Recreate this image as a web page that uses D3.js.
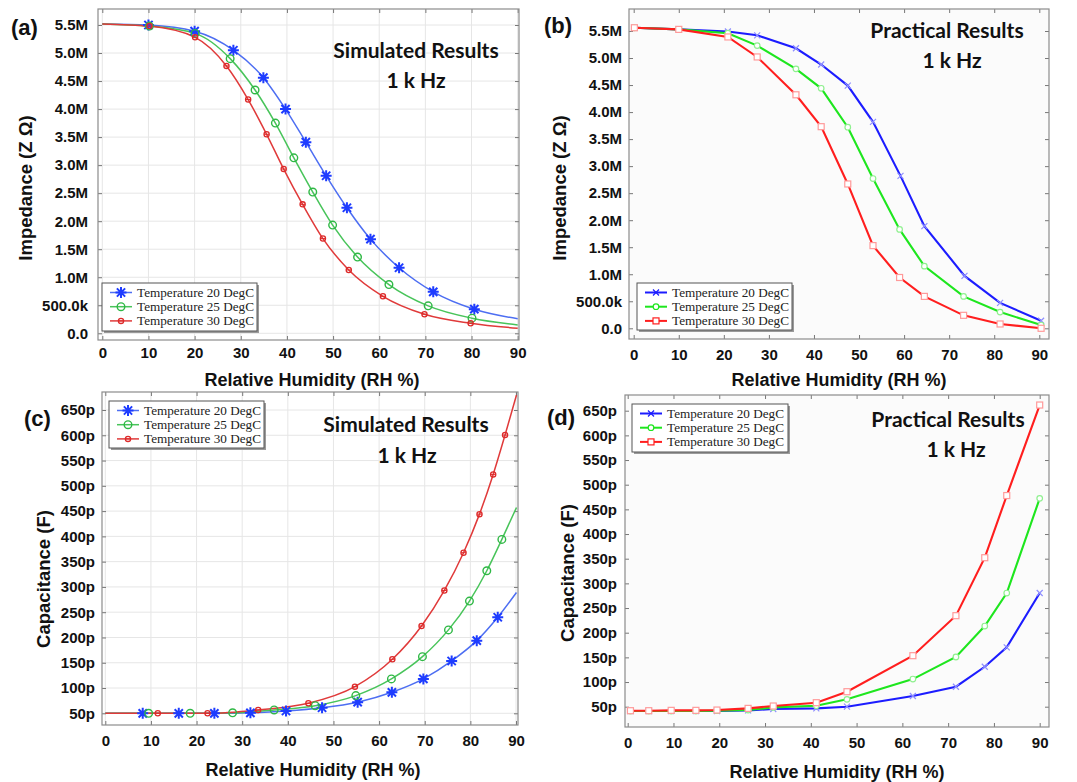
<!DOCTYPE html>
<html><head><meta charset="utf-8">
<script src="https://cdn.jsdelivr.net/npm/d3@7"></script>
<style>
body{margin:0;background:#fff;}
svg{display:block;}
</style></head>
<body>
<svg id="chart" width="1077" height="782"></svg>
<script>
// ---------- DATA ----------
const xTicks = [0,10,20,30,40,50,60,70,80,90];
const zTicks = [0,0.5,1,1.5,2,2.5,3,3.5,4,4.5,5,5.5];           // impedance, M-ohm
const cTicks = [50,100,150,200,250,300,350,400,450,500,550,600,650]; // capacitance, pF
const seriesNames = ["Temperature 20 DegC","Temperature 25 DegC","Temperature 30 DegC"];

// (a) simulated impedance
const rhSimZ20 = [0,10,20,28.4,34.9,39.7,44.1,48.5,53.0,58.1,64.3,71.7,80.6,90];
const zSim20   = [5.52,5.50,5.39,5.05,4.56,4.00,3.41,2.81,2.24,1.68,1.17,0.74,0.43,0.26];
const rhSimZ25 = [0,10.2,20.1,27.7,33.1,37.5,41.5,45.6,49.9,55.3,62.1,70.6,80.1,90];
const zSim25   = [5.52,5.48,5.35,4.90,4.34,3.75,3.13,2.52,1.93,1.36,0.87,0.49,0.27,0.15];
const rhSimZ30 = [0,10.2,20.1,26.9,31.6,35.6,39.3,43.4,47.8,53.4,60.8,69.8,79.8,90];
const zSim30   = [5.52,5.48,5.28,4.77,4.17,3.55,2.93,2.30,1.69,1.13,0.66,0.34,0.18,0.09];

// (b) practical impedance
const rhPrZ20 = [0.15,10,20.9,27.4,36.0,41.6,47.5,53.1,59.2,64.5,73.4,81.3,90.4];
const zPr20   = [5.56,5.53,5.49,5.42,5.18,4.88,4.49,3.82,2.82,1.89,0.97,0.47,0.14];
const rhPrZ25 = [0.15,10,20.9,27.4,36.0,41.6,47.5,53.1,59.0,64.5,73.2,81.3,90.4];
const zPr25   = [5.56,5.53,5.46,5.23,4.80,4.44,3.72,2.77,1.83,1.15,0.59,0.30,0.06];
const rhPrZ30 = [0.15,10,20.9,27.4,36.0,41.6,47.5,53.1,59.0,64.5,73.2,81.3,90.4];
const zPr30   = [5.56,5.53,5.39,5.02,4.32,3.73,2.67,1.53,0.94,0.59,0.24,0.08,0.00];

// (c) simulated capacitance
const rhSimC20 = [0,8.2,16.1,23.9,31.8,39.6,47.5,55.3,62.8,69.7,75.9,81.4,86.0,90.1];
const cSim20   = [50,50,50,50,51,54.6,61,72,91.5,118,153.5,193.7,240,289];
const rhSimC25 = [0,9.5,18.6,27.9,37.0,46.0,54.9,62.7,69.5,75.2,79.8,83.6,86.9,90.1];
const cSim25   = [50,50,50,51,56.6,65,85,118,162,215,272,332,394,457];
const rhSimC30 = [0,11.5,22.4,33.5,44.5,54.7,62.9,69.3,74.3,78.5,82.0,85.0,87.6,90.1];
const cSim30   = [50,50,50,56.6,69.8,102.7,156.8,222.7,293,367.7,444,522.6,600.4,679.5];

// (d) practical capacitance
const rhPrC  = [0.6,4.6,9.5,14.9,19.5,26.3,31.8,41.2,47.9,62.3,71.7,78.0,82.8,90.0];
const cPr20  = [41.2,41.2,41.2,41.2,41.2,42.6,45.3,46.6,50,71.6,90.5,131,170.3,280.4];
const cPr25  = [41.2,41.2,41.2,41.2,41.9,43.2,48.6,52,64.9,106,150.7,213.5,280.4,472.3];
const cPr30  = [41.9,41.9,42.6,42.6,43.2,46.6,51.4,58.1,80.4,153.4,234.5,352,478,661.5];

// ---------- DRAW ----------
const svg = d3.select("#chart");
const zip = (xs, ys) => xs.map((x,i)=>[x, ys[i]]);
const fmtZ = v => v === 0 ? "0.0" : (v < 1 ? (v*1000).toFixed(1)+"k" : v.toFixed(1)+"M");
const fmtC = v => v + "p";

const simStyle = [
  {line:"#4d6ef2", mark:"#1e3cff", shape:"star"},
  {line:"#48c45a", mark:"#2fb845", shape:"circle"},
  {line:"#e03a3a", mark:"#dd2a2a", shape:"dot"}
];
const prStyle = [
  {line:"#1c1cff", mark:"#8f8fff", shape:"x"},
  {line:"#1ee61e", mark:"#8ff08f", shape:"circleS"},
  {line:"#ff1e1e", mark:"#ff9a9a", shape:"square"}
];

function drawMarker(g, shape, color, cx, cy) {
  if (shape === "star") {
    const s = 5.5;
    g.append("path").attr("d",
      `M${cx-s},${cy}L${cx+s},${cy}M${cx},${cy-s}L${cx},${cy+s}` +
      `M${cx-s*0.75},${cy-s*0.75}L${cx+s*0.75},${cy+s*0.75}M${cx-s*0.75},${cy+s*0.75}L${cx+s*0.75},${cy-s*0.75}`)
      .attr("stroke", color).attr("stroke-width", 2).attr("fill","none");
  } else if (shape === "circle") {
    g.append("circle").attr("cx",cx).attr("cy",cy).attr("r",3.8)
      .attr("fill","none").attr("stroke",color).attr("stroke-width",1.4);
  } else if (shape === "dot") {
    g.append("circle").attr("cx",cx).attr("cy",cy).attr("r",2.6)
      .attr("fill","none").attr("stroke",color).attr("stroke-width",1.3);
    g.append("path").attr("d",`M${cx-2.5},${cy}L${cx+2.5},${cy}`).attr("stroke",color).attr("stroke-width",1);
  } else if (shape === "x") {
    const s = 3;
    g.append("path").attr("d",`M${cx-s},${cy-s}L${cx+s},${cy+s}M${cx-s},${cy+s}L${cx+s},${cy-s}`)
      .attr("stroke",color).attr("stroke-width",1.2);
  } else if (shape === "circleS") {
    g.append("circle").attr("cx",cx).attr("cy",cy).attr("r",2.8)
      .attr("fill","#fff").attr("stroke",color).attr("stroke-width",1.2);
  } else if (shape === "square") {
    g.append("rect").attr("x",cx-3).attr("y",cy-3).attr("width",6).attr("height",6)
      .attr("fill","#fff").attr("stroke",color).attr("stroke-width",1.2);
  }
}

function panel(cfg) {
  const g = svg.append("g");
  const x = d3.scaleLinear().domain([0,90]).range(cfg.xr);
  const y = d3.scaleLinear().domain(cfg.yd).range(cfg.yr);
  const [L,T,R,B] = cfg.frame;
  const id = "clip" + cfg.tag.replace(/[()]/g,"");
  svg.append("clipPath").attr("id", id).append("rect")
     .attr("x",L).attr("y",T).attr("width",R-L).attr("height",B-T);

  g.append("rect").attr("x",L).attr("y",T).attr("width",R-L).attr("height",B-T)
   .attr("fill", cfg.bg);

  if (cfg.grid) {
    g.append("g").selectAll("line").data(xTicks).join("line")
     .attr("x1",d=>x(d)).attr("x2",d=>x(d)).attr("y1",T).attr("y2",B)
     .attr("stroke","#e6e6e6").attr("stroke-width",1);
    g.append("g").selectAll("line").data(cfg.yTicks).join("line")
     .attr("y1",d=>y(d)).attr("y2",d=>y(d)).attr("x1",L).attr("x2",R)
     .attr("stroke","#e6e6e6").attr("stroke-width",1);
  }

  // axes
  const ax = g.append("g").attr("transform",`translate(0,${B})`)
    .call(d3.axisBottom(x).tickValues(xTicks).tickFormat(d3.format("d"))
      .tickSizeInner(-4).tickSizeOuter(0).tickPadding(cfg.xPad));
  const ay = g.append("g").attr("transform",`translate(${L},0)`)
    .call(d3.axisLeft(y).tickValues(cfg.yTicks).tickFormat(cfg.fmt)
      .tickSizeInner(-4).tickSizeOuter(0).tickPadding(cfg.yPad));
  const at = g.append("g").attr("transform",`translate(0,${T})`)
    .call(d3.axisTop(x).tickValues(xTicks).tickFormat("").tickSizeInner(-4).tickSizeOuter(0));
  const ar = g.append("g").attr("transform",`translate(${R},0)`)
    .call(d3.axisRight(y).tickValues(cfg.yTicks).tickFormat("").tickSizeInner(-4).tickSizeOuter(0));
  [ax,ay,at,ar].forEach(a=>{
    a.select(".domain").remove();
    a.selectAll("line").attr("stroke","#777");
    a.selectAll("text").attr("font-family","Liberation Sans, Arial, sans-serif")
      .attr("font-weight","bold").attr("font-size",15).attr("fill","#111");
  });

  g.append("rect").attr("x",L).attr("y",T).attr("width",R-L).attr("height",B-T)
   .attr("fill","none").attr("stroke","#8c8c8c").attr("stroke-width",1.2);

  // series
  const styles = cfg.sim ? simStyle : prStyle;
  const line = d3.line().x(d=>x(d[0])).y(d=>y(d[1]))
    .curve(cfg.sim ? d3.curveMonotoneX : d3.curveLinear);
  const plot = g.append("g").attr("clip-path",`url(#${id})`);
  cfg.series.forEach((pts,i)=>{
    plot.append("path").datum(pts).attr("d",line).attr("fill","none")
      .attr("stroke",styles[i].line).attr("stroke-width",cfg.sim?1.5:2.1);
  });
  cfg.series.forEach((pts,i)=>{
    const mk = cfg.sim ? pts.slice(1,-1) : pts;
    const mg = plot.append("g");
    mk.forEach(p=>drawMarker(mg, styles[i].shape, styles[i].mark, x(p[0]), y(p[1])));
  });

  // legend
  const lg = cfg.legend;
  g.append("rect").attr("x",lg.x+2).attr("y",lg.y+2).attr("width",lg.w).attr("height",lg.h)
   .attr("fill","#9a9a9a");
  g.append("rect").attr("x",lg.x).attr("y",lg.y).attr("width",lg.w).attr("height",lg.h)
   .attr("fill","#fff").attr("stroke","#555").attr("stroke-width",1);
  seriesNames.forEach((name,i)=>{
    const yy = lg.y + 9.5 + i*14.2;
    g.append("line").attr("x1",lg.x+8).attr("x2",lg.x+30).attr("y1",yy).attr("y2",yy)
     .attr("stroke",styles[i].line).attr("stroke-width",cfg.sim?1.5:2);
    drawMarker(g, styles[i].shape, cfg.sim ? styles[i].mark : styles[i].line, lg.x+19, yy);
    g.append("text").attr("x",lg.x+35).attr("y",yy+4).text(name)
     .attr("font-family","Liberation Serif, Times New Roman, serif")
     .attr("font-size",13.2).attr("fill","#222");
  });

  // titles
  const tf = "Lato, Open Sans, sans-serif";
  g.append("text").attr("x",cfg.t1[0]).attr("y",cfg.t1[1]).attr("text-anchor","middle")
   .attr("font-family",tf).attr("font-weight","bold").attr("font-size",21).attr("fill","#111")
   .text(cfg.title);
  g.append("text").attr("x",cfg.t2[0]).attr("y",cfg.t2[1]).attr("text-anchor","middle")
   .attr("font-family",tf).attr("font-weight","bold").attr("font-size",21).attr("fill","#111")
   .text("1 k Hz");

  // axis titles
  g.append("text").attr("x",cfg.xt[0]).attr("y",cfg.xt[1]).attr("text-anchor","middle")
   .attr("font-family","Liberation Sans, Arial, sans-serif").attr("font-weight","bold")
   .attr("font-size",18).attr("fill","#111").text("Relative Humidity (RH %)");
  g.append("text").attr("transform",`translate(${cfg.yt[0]},${cfg.yt[1]}) rotate(-90)`)
   .attr("text-anchor","middle").attr("dominant-baseline","central")
   .attr("font-family","Liberation Sans, Arial, sans-serif").attr("font-weight","bold")
   .attr("font-size",18.5).attr("fill","#111").text(cfg.ylabel);

  // panel letter
  g.append("text").attr("x",cfg.lab[0]).attr("y",cfg.lab[1])
   .attr("font-family","Liberation Sans, Arial, sans-serif").attr("font-weight","bold")
   .attr("font-size",22).attr("fill","#111").text(cfg.tag);
}

panel({tag:"(a)", sim:true, grid:true, bg:"#fff",
  frame:[98,9,519,340], xr:[102.3,517.7], yd:[0,5.5], yr:[333.3,25],
  yTicks:zTicks, fmt:fmtZ, xPad:7, yPad:10,
  series:[zip(rhSimZ20,zSim20), zip(rhSimZ25,zSim25), zip(rhSimZ30,zSim30)],
  legend:{x:102,y:283,w:155,h:48},
  title:"Simulated Results", t1:[416,58], t2:[416,88],
  xt:[312,386], yt:[25,188], ylabel:"Impedance (Z Ω)", lab:[11,35]});

panel({tag:"(b)", sim:false, grid:false, bg:"#fbfbfb",
  frame:[629,9,1049,339], xr:[633.7,1039.3], yd:[0,5.5], yr:[328.3,31],
  yTicks:zTicks, fmt:fmtZ, xPad:10, yPad:7,
  series:[zip(rhPrZ20,zPr20), zip(rhPrZ25,zPr25), zip(rhPrZ30,zPr30)],
  legend:{x:637,y:283,w:155,h:47},
  title:"Practical Results", t1:[947,38], t2:[952,68],
  xt:[839,386], yt:[559,188], ylabel:"Impedance (Z Ω)", lab:[544,33]});

panel({tag:"(c)", sim:true, grid:true, bg:"#fff",
  frame:[102,392,518,725], xr:[105.3,516], yd:[50,650], yr:[713.3,410],
  yTicks:cTicks, fmt:fmtC, xPad:10, yPad:7,
  series:[zip(rhSimC20,cSim20), zip(rhSimC25,cSim25), zip(rhSimC30,cSim30)],
  legend:{x:109,y:401,w:155,h:47},
  title:"Simulated Results", t1:[406,432], t2:[407,463],
  xt:[313,776], yt:[43,579], ylabel:"Capacitance (F)", lab:[24,426]});

panel({tag:"(d)", sim:false, grid:false, bg:"#fbfbfb",
  frame:[625,395,1049,727], xr:[627.7,1039.7], yd:[50,650], yr:[706.7,410.7],
  yTicks:cTicks, fmt:fmtC, xPad:10, yPad:8,
  series:[zip(rhPrC,cPr20), zip(rhPrC,cPr25), zip(rhPrC,cPr30)],
  legend:{x:632,y:404,w:156,h:48},
  title:"Practical Results", t1:[948,427], t2:[956,457],
  xt:[837,778], yt:[567,573], ylabel:"Capacitance (F)", lab:[547,425]});
</script>
</body></html>
